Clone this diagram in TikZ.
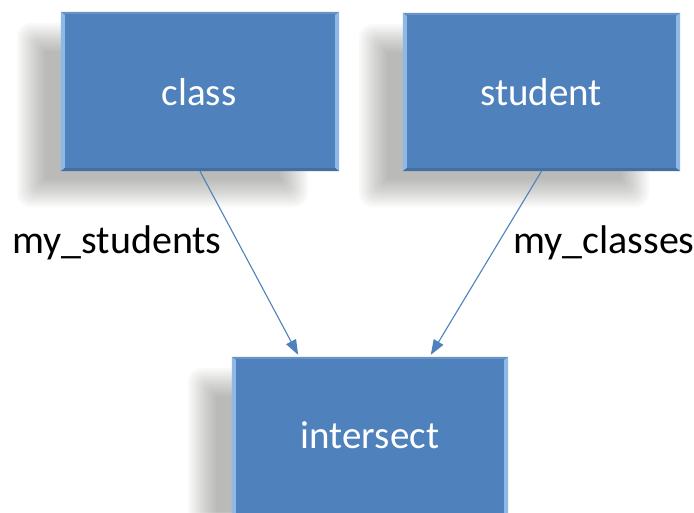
\documentclass[tikz,border=0pt]{standalone}
\usepackage{fontspec}
\setmainfont{Carlito}
\usetikzlibrary{arrows.meta,calc}
\definecolor{boxblue}{HTML}{4F81BD}
\definecolor{bevlight}{HTML}{8FB8E6}
\definecolor{bevtop}{HTML}{6893C9}
\definecolor{bevdark}{HTML}{43709F}
\definecolor{arrowblue}{HTML}{4F81BD}
\definecolor{shadowgrey}{HTML}{5A5A55}
\tikzset{
  boxnode/.style={rectangle, fill=boxblue, inner sep=0pt, anchor=center},
  boxtext/.style={text=white, font=\fontsize{39}{41}\selectfont, inner sep=0pt},
  lbl/.style={font=\fontsize{40}{42}\selectfont, text=black, inner sep=0pt},
  conn/.style={draw=arrowblue, line width=1.1pt, -{Triangle[length=15pt,width=11pt]}}
}
\newcommand{\softshadow}[4]{%
  \foreach \k in {0,...,14}{%
    \fill[shadowgrey, fill opacity=0.03, rounded corners={14-\k}]
      ({#1-30-14+2*\k},{#2+25-14+2*\k}) rectangle ({#3-45+14-2*\k},{#4+22+14-2*\k});
  }%
}
\newcommand{\bevelbox}[1]{%
  \fill[bevtop] (#1.north west) -- (#1.north east) -- ([shift={(-4,2)}]#1.north east) -- ([shift={(4,2)}]#1.north west) -- cycle;
  \fill[bevlight] (#1.north west) -- ([shift={(4,3)}]#1.north west) -- ([shift={(4,-3)}]#1.south west) -- (#1.south west) -- cycle;
  \fill[bevlight] (#1.north east) -- ([shift={(-4,3)}]#1.north east) -- ([shift={(-4,-3)}]#1.south east) -- (#1.south east) -- cycle;
  \fill[bevdark] (#1.south west) -- (#1.south east) -- ([shift={(-4,-3)}]#1.south east) -- ([shift={(4,-3)}]#1.south west) -- cycle;
}
\begin{document}
\begin{tikzpicture}[x=1pt,y=-1pt]
\useasboundingbox (0,0) rectangle (694,512);
\clip (0,0) rectangle (694,512);
\fill[white] (0,0) rectangle (694,512);
\softshadow{61}{12}{339}{171}
\softshadow{403}{13}{680}{171}
\softshadow{232}{357}{508}{531}
\node[boxnode, minimum width=278pt, minimum height=159pt] (class) at (200,91.5) {};
\node[boxnode, minimum width=277pt, minimum height=158pt] (student) at (541.5,92) {};
\node[boxnode, minimum width=276pt, minimum height=174pt] (intersect) at (370,444) {};
\bevelbox{class}
\bevelbox{student}
\bevelbox{intersect}
\node[boxtext] (classtxt) at (199,92) {class};
\node[boxtext] (studenttxt) at (541,92) {student};
\node[boxtext] (intersecttxt) at (370,435) {intersect};
\node[lbl, anchor=west] (lstud) at (12,243) {my\_students};
\node[lbl, anchor=west] (lcls) at (513,243) {my\_classes};
\coordinate (inL) at ($(intersect.north west)!0.24!(intersect.north east)+(0,-2)$);
\coordinate (inR) at ($(intersect.north west)!0.72!(intersect.north east)+(0,-2)$);
\draw[conn] (class.south) -- (inL);
\draw[conn] (student.south) -- (inR);
\end{tikzpicture}
\end{document}
